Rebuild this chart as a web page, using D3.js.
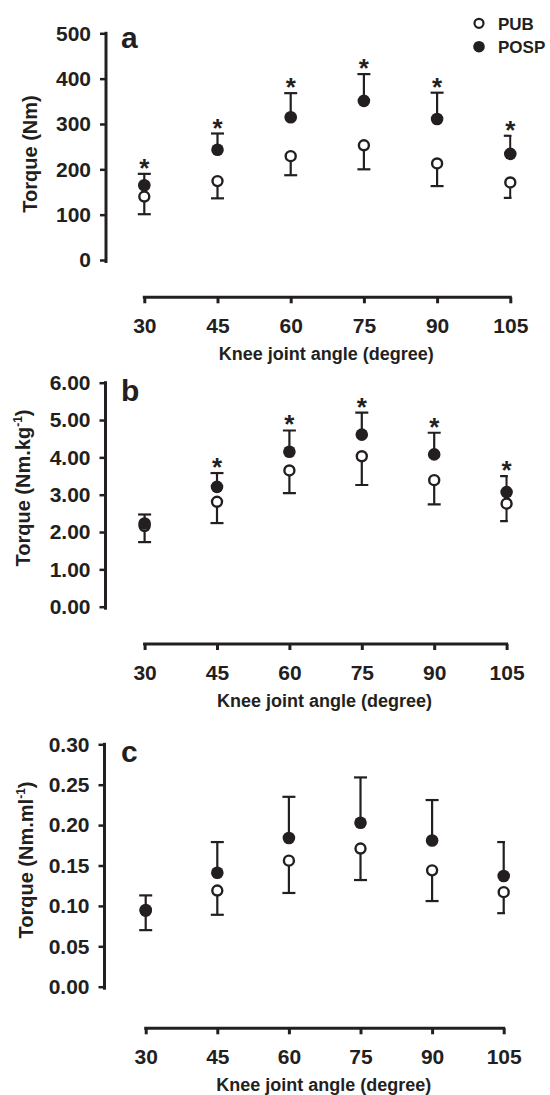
<!DOCTYPE html>
<html>
<head>
<meta charset="utf-8">
<script src="https://cdnjs.cloudflare.com/ajax/libs/d3/7.8.5/d3.min.js"></script>
<style>
  body { margin: 0; background: #fff; }
  svg text { font-family: "Liberation Sans", Arial, sans-serif; font-weight: bold; fill: #231f20; }
</style>
</head>
<body>
<svg id="chart" width="550" height="1095"></svg>
<script>
// knee joint angles (degree)
let angles = [30, 45, 60, 75, 90, 105];

// a: torque (Nm)
let nmPUB = [140, 174, 229, 253, 213, 171];
let nmPUBsd = [39, 38, 42, 53, 50, 34];
let nmPOSP = [165, 243, 315, 351, 311, 234];
let nmPOSPsd = [25, 36, 53, 59, 58, 40];
let nmStar = [true, true, true, true, true, true];
let nmTicks = [0, 100, 200, 300, 400, 500];

// b: torque / body mass (Nm.kg-1)
let kgPUB = [2.16, 2.81, 3.65, 4.03, 3.39, 2.76];
let kgPUBsd = [0.43, 0.57, 0.61, 0.77, 0.65, 0.47];
let kgPOSP = [2.23, 3.21, 4.15, 4.61, 4.08, 3.07];
let kgPOSPsd = [0.24, 0.37, 0.57, 0.59, 0.58, 0.43];
let kgStar = [false, true, true, true, true, true];
let kgTicks = [0, 1, 2, 3, 4, 5, 6];

// c: torque / muscle volume (Nm.ml-1)
let mlPUB = [0.094, 0.119, 0.156, 0.171, 0.144, 0.117];
let mlPUBsd = [0.024, 0.030, 0.040, 0.039, 0.038, 0.026];
let mlPOSP = [0.095, 0.141, 0.184, 0.203, 0.181, 0.137];
let mlPOSPsd = [0.018, 0.038, 0.051, 0.056, 0.050, 0.042];
let mlStar = [false, false, false, false, false, false];
let mlTicks = [0, 0.05, 0.10, 0.15, 0.20, 0.25, 0.30];

let legendLabels = ["PUB", "POSP"];

let svg = d3.select("#chart");
svg.append("rect").attr("width", 550).attr("height", 1095).attr("fill", "#fff");

let ink = "#231f20";

let panels = [
  {id: "a", pub: nmPUB, pubSd: nmPUBsd, posp: nmPOSP, pospSd: nmPOSPsd, star: nmStar, ticks: nmTicks,
   fmt: d3.format("d"), top: 33.3, bottom: 260, axisX: 106, xRange: [144.3, 510.3], xAxisY: 297.3,
   title: ["Torque (Nm)"], titleX: 37, titleY: 154, letterY: 48},
  {id: "b", pub: kgPUB, pubSd: kgPUBsd, posp: kgPOSP, pospSd: kgPOSPsd, star: kgStar, ticks: kgTicks,
   fmt: d3.format(".2f"), top: 382.7, bottom: 606.7, axisX: 105.5, xRange: [144.6, 506.6], xAxisY: 644,
   title: ["Torque (Nm.kg", "-1", ")"], titleX: 30, titleY: 488, letterY: 401},
  {id: "c", pub: mlPUB, pubSd: mlPUBsd, posp: mlPOSP, pospSd: mlPOSPsd, star: mlStar, ticks: mlTicks,
   fmt: d3.format(".2f"), top: 744.3, bottom: 986.7, axisX: 104.5, xRange: [145.7, 503.7], xAxisY: 1028.3,
   title: ["Torque (Nm.ml", "-1", ")"], titleX: 33, titleY: 860, letterY: 762}
];

panels.forEach(function(p){
  let x = d3.scaleLinear().domain([30, 105]).range(p.xRange);
  let y = d3.scaleLinear().domain([0, d3.max(p.ticks)]).range([p.bottom, p.top]);

  svg.append("clipPath").attr("id", "clip-" + p.id)
    .append("rect").attr("x", 0).attr("y", 0).attr("width", x(105) + 1.2).attr("height", 1095);

  // y axis
  let yAxisG = svg.append("g").attr("transform", "translate(" + p.axisX + ",0)")
    .call(d3.axisLeft(y).tickValues(p.ticks).tickFormat(p.fmt).tickSize(6).tickSizeOuter(0).tickPadding(9));
  yAxisG.select(".domain").attr("stroke", ink).attr("stroke-width", 3).attr("d", "M0," + (p.top - 1.5) + "V" + (p.bottom + 3));
  yAxisG.selectAll(".tick line").attr("stroke", ink).attr("stroke-width", 2.5);
  yAxisG.selectAll(".tick text").style("font-size", "21px").attr("fill", ink);

  // x axis (offset below the plot)
  let xAxisG = svg.append("g").attr("transform", "translate(0," + p.xAxisY + ")")
    .call(d3.axisBottom(x).tickValues(angles).tickSize(6).tickSizeOuter(0).tickPadding(15));
  xAxisG.select(".domain").attr("stroke", ink).attr("stroke-width", 3).attr("d", "M" + (x(30) - 1.5) + ",0H" + (x(105) + 1.5));
  xAxisG.selectAll(".tick line").attr("stroke", ink).attr("stroke-width", 3);
  xAxisG.selectAll(".tick text").style("font-size", "21px").attr("fill", ink);

  svg.append("text").attr("x", (x(30) + x(105)) / 2 - 1).attr("y", p.xAxisY + 62.5)
    .attr("text-anchor", "middle").style("font-size", "18px").text("Knee joint angle (degree)");

  // y title
  let t = svg.append("text").attr("transform", "translate(" + p.titleX + "," + p.titleY + ") rotate(-90)")
    .attr("text-anchor", "middle").style("font-size", "20px");
  t.append("tspan").text(p.title[0]);
  if (p.title.length > 1) {
    t.append("tspan").attr("dy", -8).style("font-size", "12px").text(p.title[1]);
    t.append("tspan").attr("dy", 8).text(p.title[2]);
  }

  // panel letter
  svg.append("text").attr("x", 121).attr("y", p.letterY).style("font-size", "30px").text(p.id);

  let rows = angles.map(function(a, i){
    return {a: a, pub: p.pub[i], pubSd: p.pubSd[i], posp: p.posp[i], pospSd: p.pospSd[i], star: p.star[i]};
  });

  // error bars: PUB down, POSP up
  let bars = svg.append("g").attr("clip-path", "url(#clip-" + p.id + ")").attr("stroke", ink).attr("stroke-width", 2.2);
  rows.forEach(function(d){
    let cx = x(d.a);
    bars.append("line").attr("x1", cx).attr("x2", cx).attr("y1", y(d.pub)).attr("y2", y(d.pub - d.pubSd));
    bars.append("line").attr("x1", cx - 6.5).attr("x2", cx + 6.5).attr("y1", y(d.pub - d.pubSd)).attr("y2", y(d.pub - d.pubSd));
    bars.append("line").attr("x1", cx).attr("x2", cx).attr("y1", y(d.posp)).attr("y2", y(d.posp + d.pospSd));
    bars.append("line").attr("x1", cx - 6.5).attr("x2", cx + 6.5).attr("y1", y(d.posp + d.pospSd)).attr("y2", y(d.posp + d.pospSd));
  });

  svg.append("g").selectAll("circle").data(rows).enter().append("circle")
    .attr("cx", function(d){ return x(d.a); }).attr("cy", function(d){ return y(d.pub); })
    .attr("r", 5).attr("fill", "#fff").attr("stroke", ink).attr("stroke-width", 2.4);
  svg.append("g").selectAll("circle").data(rows).enter().append("circle")
    .attr("cx", function(d){ return x(d.a); }).attr("cy", function(d){ return y(d.posp); })
    .attr("r", 6.3).attr("fill", ink);

  svg.append("g").selectAll("text").data(rows.filter(function(d){ return d.star; })).enter().append("text")
    .attr("x", function(d){ return x(d.a); }).attr("y", function(d){ return y(d.posp + d.pospSd) + 3; })
    .attr("text-anchor", "middle").style("font-size", "26px").text("*");
});

// legend
let legend = svg.append("g");
legend.append("circle").attr("cx", 479).attr("cy", 23.3).attr("r", 4.5).attr("fill", "#fff").attr("stroke", ink).attr("stroke-width", 2.2);
legend.append("circle").attr("cx", 479).attr("cy", 46.7).attr("r", 5.8).attr("fill", ink);
legend.append("text").attr("x", 498).attr("y", 29.5).style("font-size", "17px").text(legendLabels[0]);
legend.append("text").attr("x", 498).attr("y", 53).style("font-size", "17px").text(legendLabels[1]);
</script>
</body>
</html>
